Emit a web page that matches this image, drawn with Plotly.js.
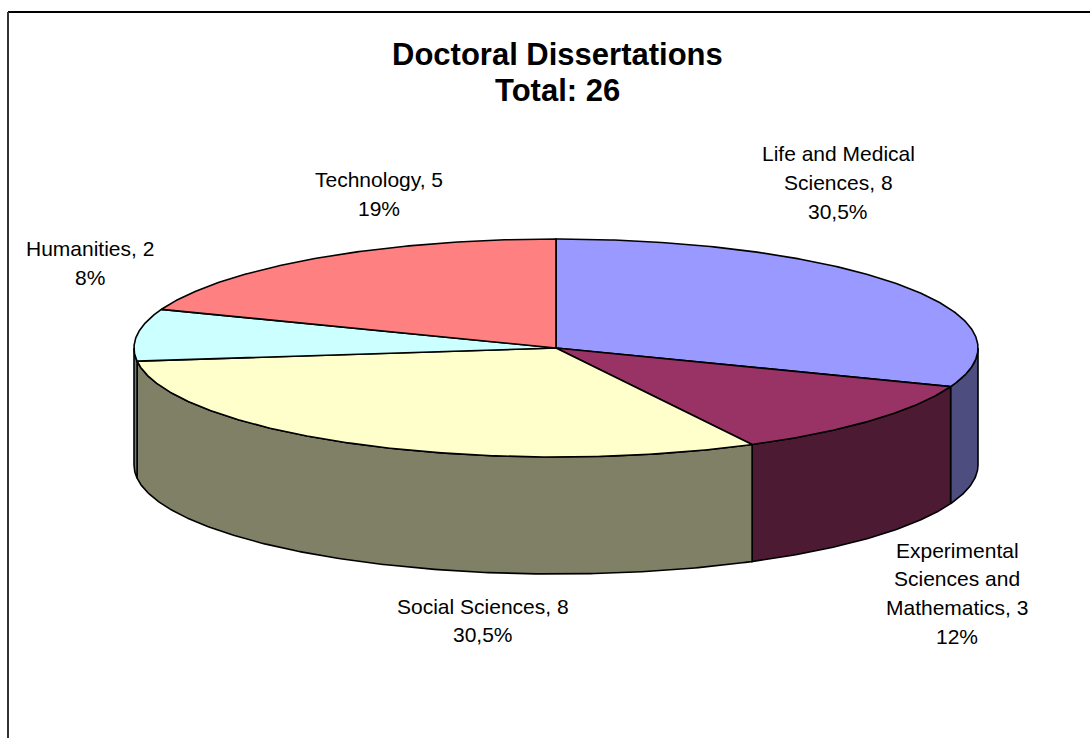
<!DOCTYPE html>
<html>
<head>
<meta charset="utf-8">
<script src="https://cdn.plot.ly/plotly-3.0.1.min.js"></script>
<style>
  html, body { margin: 0; padding: 0; background: #ffffff; }
  #chart { width: 1090px; height: 738px; }
</style>
</head>
<body>
<div id="chart"></div>
<script>
// ---------- DATA ----------
const titleLines = ["Doctoral Dissertations", "Total: 26"];
const categories = ["Life and Medical Sciences", "Experimental Sciences and Mathematics", "Social Sciences", "Humanities", "Technology"];
const values = [8, 3, 8, 2, 5];
const percentLabels = ["30,5%", "12%", "30,5%", "8%", "19%"];

// ---------- STYLE ----------
const topColors  = ["#9999FF", "#993366", "#FFFFCC", "#CCFFFF", "#FF8080"];
const sideColors = ["#4D4D80", "#4D1A33", "#808066", "#668080", "#804040"];
const pie = { cx: 556, cy: 348, rx: 422, ry: 109, depth: 117 };
// label placement (center x, first baseline y, max chars per line)
const labelStyle = [
  { x: 838, y: 161,   wrap: 16 },
  { x: 957, y: 557.3, wrap: 16 },
  { x: 483, y: 613.3, wrap: 22 },
  { x: 90,  y: 256,   wrap: 22 },
  { x: 379, y: 186.7, wrap: 22 }
];
const lineStep = 28.8;
const labelFont = { family: "Arial, 'Liberation Sans', sans-serif", size: 21, color: "#000000" };
const titleFont = { family: "Arial, 'Liberation Sans', sans-serif", size: 31, color: "#000000", weight: "bold" };

// ---------- HELPERS ----------
function pt(theta, dy) {
  const r = theta * Math.PI / 180;
  return [pie.cx + pie.rx * Math.sin(r), pie.cy - pie.ry * Math.cos(r) + dy];
}
function arc(a, b, dy) {
  const pts = [];
  const n = Math.max(2, Math.ceil(Math.abs(b - a) / 0.5));
  for (let i = 0; i <= n; i++) pts.push(pt(a + (b - a) * i / n, dy));
  return pts;
}
function wrap(text, maxChars) {
  const words = text.split(" ");
  const lines = [];
  let cur = "";
  for (const w of words) {
    const t = cur ? cur + " " + w : w;
    if (t.length > maxChars && cur) { lines.push(cur); cur = w; } else { cur = t; }
  }
  if (cur) lines.push(cur);
  return lines;
}

// ---------- BUILD ----------
const total = values.reduce((s, v) => s + v, 0);
const angles = [];
let acc = 0;
values.forEach(v => { const a0 = acc / total * 360; acc += v; angles.push([a0, acc / total * 360]); });

const outline = { color: "#000000", width: 1.6 };
const traces = [];

// side walls (visible front half: 90..270 deg clockwise from top)
angles.forEach(([a0, a1], i) => {
  const a = Math.max(a0, 90), b = Math.min(a1, 270);
  if (b <= a) return;
  const topArc = arc(a, b, 0);
  const botArc = arc(b, a, pie.depth);
  const poly = topArc.concat(botArc);
  poly.push(topArc[0]);
  traces.push({
    type: "scatter", mode: "lines", fill: "toself",
    x: poly.map(p => p[0]), y: poly.map(p => p[1]),
    fillcolor: sideColors[i], line: outline, hoverinfo: "skip", showlegend: false
  });
});

// top faces
angles.forEach(([a0, a1], i) => {
  const poly = [[pie.cx, pie.cy]].concat(arc(a0, a1, 0));
  poly.push([pie.cx, pie.cy]);
  traces.push({
    type: "scatter", mode: "lines", fill: "toself",
    x: poly.map(p => p[0]), y: poly.map(p => p[1]),
    fillcolor: topColors[i], line: outline,
    name: categories[i], text: categories[i] + ": " + values[i],
    hoverinfo: "text", showlegend: false
  });
});

// annotations
const annotations = [];
const asc = 0.3465; // visual centre offset of a text line (em)
titleLines.forEach((t, k) => {
  annotations.push({
    x: 557, y: 65 + k * 36 - asc * titleFont.size, xref: "x", yref: "y",
    text: "<b>" + t + "</b>", showarrow: false, xanchor: "center", yanchor: "middle",
    font: titleFont
  });
});
categories.forEach((c, i) => {
  const lines = wrap(c + ", " + values[i], labelStyle[i].wrap).concat([percentLabels[i]]);
  lines.forEach((ln, k) => {
    annotations.push({
      x: labelStyle[i].x, y: labelStyle[i].y + k * lineStep - asc * labelFont.size,
      xref: "x", yref: "y", text: ln, showarrow: false,
      xanchor: "center", yanchor: "middle", font: labelFont
    });
  });
});

const layout = {
  width: 1090, height: 738,
  margin: { l: 0, r: 0, t: 0, b: 0, pad: 0 },
  paper_bgcolor: "#ffffff", plot_bgcolor: "#ffffff",
  xaxis: { range: [0, 1090], visible: false, fixedrange: true },
  yaxis: { range: [738, 0], visible: false, fixedrange: true },
  showlegend: false,
  annotations: annotations,
  shapes: [
    { type: "line", xref: "x", yref: "y", x0: 8, x1: 1090, y0: 12, y1: 12, line: { color: "#000000", width: 2 } },
    { type: "line", xref: "x", yref: "y", x0: 8, x1: 8, y0: 12, y1: 738, line: { color: "#333333", width: 2 } }
  ]
};

Plotly.newPlot("chart", traces, layout, { displayModeBar: false, staticPlot: true });
</script>
</body>
</html>
